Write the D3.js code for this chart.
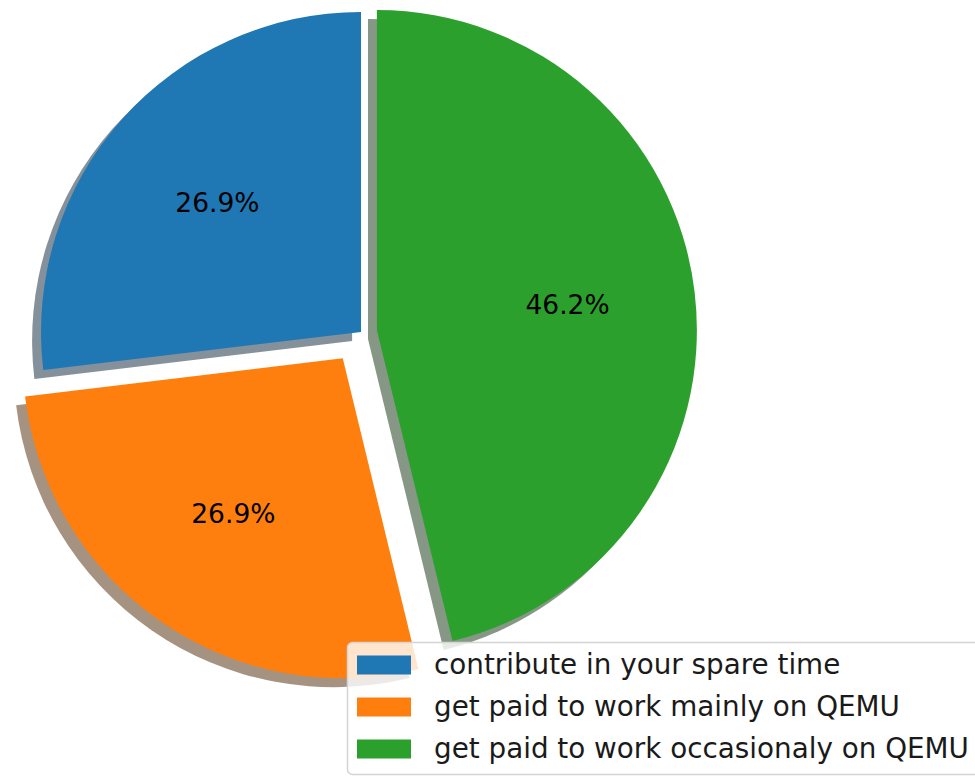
<!DOCTYPE html>
<html>
<head>
<meta charset="utf-8">
<script src="https://cdn.jsdelivr.net/npm/d3@7"></script>
<style>
  body { margin: 0; background: #fff; }
  svg { display: block; font-family: "DejaVu Sans", sans-serif; }
</style>
</head>
<body>
<div id="chart"></div>
<script>
// slice data (percent shares, as printed on the chart)
const labels = [
  "contribute in your spare time",
  "get paid to work mainly on QEMU",
  "get paid to work occasionaly on QEMU"
];
const values = [26.9, 26.9, 46.2];
const explode = [0, 0.1, 0.05];
const colors = ["#1f77b4", "#ff7f0e", "#2ca02c"];

const width = 975;
const height = 776;
const cx = 361, cy = 332;
const radius = 320;
const shadowOffset = 0.0278;   // in radius units, like matplotlib's shadow

const svg = d3.select("#chart").append("svg")
  .attr("width", width)
  .attr("height", height);

const total = d3.sum(values);

// matplotlib style: start at 12 o'clock, go counterclockwise
const pie = d3.pie()
  .sort(null)
  .startAngle(0)
  .endAngle(-2 * Math.PI);

const arcs = pie(values).map((a, i) => {
  const mid = (a.startAngle + a.endAngle) / 2;
  const dx = Math.sin(mid), dy = -Math.cos(mid);
  return { ...a, i, mid, dx, dy,
    ox: cx + explode[i] * radius * dx,
    oy: cy + explode[i] * radius * dy };
});

const arc = d3.arc().innerRadius(0).outerRadius(radius);

// darker, half transparent copy of a colour
function shade(c) {
  const r = d3.rgb(c);
  return d3.rgb(r.r * 0.3, r.g * 0.3, r.b * 0.3).toString();
}

// shadows first, beneath all wedges
svg.append("g")
  .selectAll("path")
  .data(arcs)
  .join("path")
  .attr("transform", d => `translate(${d.ox - shadowOffset * radius},${d.oy + shadowOffset * radius})`)
  .attr("d", arc)
  .attr("fill", d => shade(colors[d.i]))
  .attr("fill-opacity", 0.5);

svg.append("g")
  .selectAll("path")
  .data(arcs)
  .join("path")
  .attr("transform", d => `translate(${d.ox},${d.oy})`)
  .attr("d", arc)
  .attr("fill", d => colors[d.i]);

// percentage labels at 0.6 radius
svg.append("g")
  .selectAll("text")
  .data(arcs)
  .join("text")
  .attr("x", d => d.ox + 0.6 * radius * d.dx)
  .attr("y", d => d.oy + 0.6 * radius * d.dy)
  .attr("text-anchor", "middle")
  .attr("dy", "0.27em")
  .attr("font-size", 26.5)
  .attr("fill", "#000")
  .text(d => (d.value / total * 100).toFixed(1) + "%");

// legend, lower right
const legend = svg.append("g").attr("transform", "translate(347,642)");

legend.append("rect")
  .attr("x", 0.5)
  .attr("y", 0.5)
  .attr("width", 660)
  .attr("height", 132)
  .attr("rx", 5)
  .attr("fill", "#fff")
  .attr("fill-opacity", 0.8)
  .attr("stroke", "#d4d4d4")
  .attr("stroke-width", 1.5);

const rowY = d3.scalePoint()
  .domain(labels)
  .range([23, 107]);

const rows = legend.selectAll("g.row")
  .data(labels)
  .join("g")
  .attr("class", "row")
  .attr("transform", d => `translate(0,${rowY(d)})`);

rows.append("rect")
  .attr("x", 10)
  .attr("y", -9.5)
  .attr("width", 54)
  .attr("height", 19)
  .attr("fill", (d, i) => colors[i]);

rows.append("text")
  .attr("x", 87)
  .attr("dy", "0.34em")
  .attr("font-size", 27.8)
  .attr("fill", "#1a1a1a")
  .text(d => d);
</script>
</body>
</html>
